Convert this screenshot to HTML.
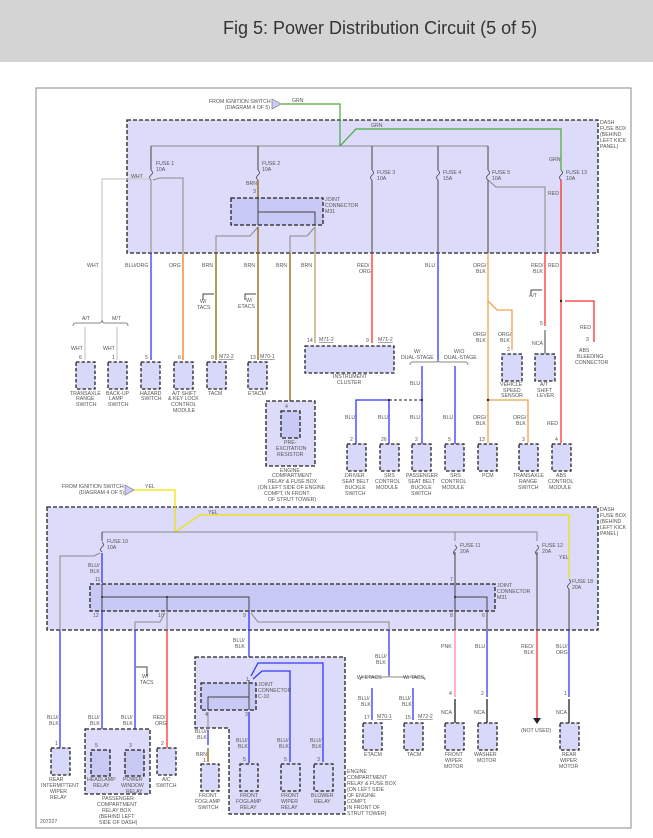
<!DOCTYPE html>
<html><head><meta charset="utf-8"><style>
html,body{margin:0;padding:0;background:#fff;}
svg{display:block}
text{font-family:"Liberation Sans",sans-serif;font-size:5.2px;fill:#555;}
.t{font-size:18px;fill:#333;}
.bx{fill:#dcdcfa;stroke:#222;stroke-width:1.3;stroke-dasharray:4 2;}
.jc{fill:#c9c9f6;stroke:#222;stroke-width:1.3;stroke-dasharray:4 2;}
.cp{fill:#d8d8fb;stroke:#222;stroke-width:1.3;stroke-dasharray:3.5 2;}
.g{stroke:#888;stroke-width:1;fill:none}
.k{stroke:#444;stroke-width:1;fill:none}
.b{stroke:#3535ff;stroke-width:1.3;fill:none}
.r{stroke:#ff3030;stroke-width:1.3;fill:none}
.o{stroke:#f0a050;stroke-width:1.3;fill:none}
.or{stroke:#f07a20;stroke-width:1.3;fill:none}
.br{stroke:#8b6508;stroke-width:1.3;fill:none}
.kh{stroke:#b5a070;stroke-width:1.3;fill:none}
.gr{stroke:#4aa83a;stroke-width:1.2;fill:none}
.y{stroke:#f0e000;stroke-width:1.2;fill:none}
.w{stroke:#ccc;stroke-width:1.2;fill:none}
.pk{stroke:#ff8aa8;stroke-width:1.3;fill:none}
.f{stroke:#444;stroke-width:0.8;fill:none}
</style></head><body>
<svg width="653" height="838" viewBox="0 0 653 838" xmlns="http://www.w3.org/2000/svg">
<rect x="0" y="0" width="653" height="62" fill="#d4d4d4"/>
<text x="223" y="34" class="t">Fig 5: Power Distribution Circuit (5 of 5)</text>
<rect x="36" y="88" width="595" height="740" stroke="#888" stroke-width="1" fill="none"/>

<!-- TOP FUSE BOX -->
<rect x="127" y="120" width="471" height="133" class="bx"/>
<text x="600" y="124">DASH</text><text x="600" y="130">FUSE BOX</text><text x="600" y="136">(BEHIND</text><text x="600" y="142">LEFT KICK</text><text x="600" y="148">PANEL)</text>
<text x="209" y="103">FROM IGNITION SWITCH</text><text x="225" y="109">(DIAGRAM 4 OF 5)</text>
<path d="M272 99L281 104L272 109Z" fill="#ccf" stroke="#777" stroke-width="0.7"/>
<path class="gr" d="M281 104H340V146"/><text x="292" y="102">GRN</text>
<path class="gr" d="M340 146L356 129H561V170"/><text x="371" y="127">GRN</text><text x="549" y="161">GRN</text>
<path class="g" d="M151 146H488"/>
<path class="k" d="M151 146V170M258 146V170M372 146V170M438 146V170M488 146V170"/>
<g class="f">
<path d="M151 170q3 3 0 5q-3 3 0 5"/><path d="M258 170q3 3 0 5q-3 3 0 5"/><path d="M372 170q3 3 0 5q-3 3 0 5"/><path d="M438 170q3 3 0 5q-3 3 0 5"/><path d="M488 170q3 3 0 5q-3 3 0 5"/><path d="M561 170q3 3 0 5q-3 3 0 5"/>
</g>
<text x="156" y="165">FUSE 1</text><text x="156" y="171">10A</text>
<text x="262" y="165">FUSE 2</text><text x="262" y="171">10A</text>
<text x="377" y="174">FUSE 3</text><text x="377" y="180">10A</text>
<text x="443" y="174">FUSE 4</text><text x="443" y="180">15A</text>
<text x="492" y="174">FUSE 5</text><text x="492" y="180">10A</text>
<text x="566" y="174">FUSE 13</text><text x="566" y="180">10A</text>
<path class="w" d="M150 179H102V322"/><text x="131" y="178">WHT</text><text x="87" y="267">WHT</text>
<path class="g" d="M151 180V253"/><path class="b" d="M151 253V360"/>
<path class="g" d="M153 180L160 178H183V253"/><path class="or" d="M183 253V360"/>
<text x="125" y="267">BLU/ORG</text><text x="169" y="267">ORG</text>
<path class="br" d="M258 180V198"/><text x="246" y="185">BRN</text><text x="253" y="193">3</text>
<rect x="231" y="198" width="92" height="27" class="jc"/>
<text x="325" y="201">JOINT</text><text x="325" y="207">CONNECTOR</text><text x="325" y="213">M31</text>
<path class="k" d="M258 198V225M258 212H315V225"/>
<path class="g" d="M258 227L250 236H216V253M315 227L307 236H290V253"/>
<path class="br" d="M216 253V360M258 227V360M290 253V403"/><path class="kh" d="M315 227V343"/>
<text x="202" y="267">BRN</text><text x="244" y="267">BRN</text><text x="276" y="267">BRN</text><text x="301" y="267">BRN</text>
<path class="k" d="M203 300V294H214" stroke-width="0.7"/>
<text x="200" y="303">W/</text><text x="197" y="309">TACS</text>
<path class="k" d="M245 300V294H256" stroke-width="0.7"/>
<text x="246" y="302">W/</text><text x="238" y="308">ETACS</text>
<path class="k" d="M372 180V253"/><path class="r" d="M372 253V343"/><text x="357" y="267">RED/</text><text x="359" y="273">ORG</text>
<path class="k" d="M438 180V253"/><path class="b" d="M438 253V362"/><text x="425" y="267">BLU</text>
<path class="g" d="M488 180L496 187H545V253"/><path class="r" d="M545 253V326"/>
<path class="k" d="M545 330V354" stroke="#555" stroke-width="1.5"/>
<text x="531" y="267">RED/</text><text x="533" y="273">BLK</text><text x="548" y="195">RED</text>
<text x="548" y="267">RED</text>
<path class="k" d="M531 294V290H542" stroke-width="0.7"/><text x="529" y="297">A/T</text>
<path class="k" d="M488 180V253"/><path class="o" d="M488 253V443M488 301L497 310H512V350M488 400H528V443"/>
<text x="473" y="267">ORG/</text><text x="476" y="273">BLK</text>
<text x="473" y="336">ORG/</text><text x="476" y="342">BLK</text>
<text x="498" y="336">ORG/</text><text x="500" y="342">BLK</text>
<text x="473" y="419">ORG/</text><text x="476" y="425">BLK</text>
<text x="513" y="419">ORG/</text><text x="516" y="425">BLK</text>
<circle cx="488" cy="400" r="1.2" fill="#222"/>
<path class="r" d="M561 180V443"/><path class="r" d="M565 301H594V342" stroke="#ff7070"/>
<circle cx="561" cy="301" r="1.2" fill="#222"/>
<text x="580" y="329">RED</text><text x="547" y="425">RED</text>
<text x="586" y="341">3</text><text x="579" y="352">ABS</text><text x="577" y="358">BLEEDING</text><text x="575" y="364">CONNECTOR</text>
<text x="540" y="325">5</text><text x="532" y="345">NCA</text>
<path class="g" d="M73 326q0-3 3-3H99q3 0 3-3q0 3 3 3H125q3 0 3 3" stroke-width="0.8"/>
<text x="82" y="320">A/T</text><text x="112" y="320">M/T</text>
<path class="w" d="M85 327V360M117 327V360"/>
<text x="71" y="350">WHT</text><text x="103" y="350">WHT</text>
<g>
<rect x="76" y="362" width="19" height="27" class="cp"/><text x="79" y="359">6</text>
<rect x="108" y="362" width="19" height="27" class="cp"/><text x="112" y="359">1</text>
<rect x="141" y="362" width="19" height="27" class="cp"/><text x="145" y="359">5</text>
<rect x="174" y="362" width="19" height="27" class="cp"/><text x="178" y="359">6</text>
<rect x="207" y="362" width="19" height="27" class="cp"/><text x="211" y="359">9</text><text x="219" y="358" text-decoration="underline">M72-2</text>
<rect x="248" y="362" width="19" height="27" class="cp"/><text x="250" y="359">13</text><text x="260" y="358" text-decoration="underline">M70-1</text>
</g>
<text x="70" y="395">TRANSAXLE</text><text x="76" y="400">RANGE</text><text x="76" y="406">SWITCH</text>
<text x="106" y="395">BACK-UP</text><text x="109" y="400">LAMP</text><text x="108" y="406">SWITCH</text>
<text x="140" y="395">HAZARD</text><text x="141" y="400">SWITCH</text>
<text x="172" y="395">A/T SHIFT</text><text x="168" y="400">&amp; KEY LOCK</text><text x="171" y="406">CONTROL</text><text x="173" y="412">MODULE</text>
<text x="208" y="395">TACM</text><text x="248" y="395">ETACM</text>
<rect x="305" y="346" width="89" height="27" class="cp"/>
<text x="307" y="342">14</text><text x="319" y="341" text-decoration="underline">M71-2</text>
<text x="366" y="342">9</text><text x="378" y="341" text-decoration="underline">M71-2</text>
<text x="333" y="378">INSTRUMENT</text><text x="337" y="384">CLUSTER</text>
<rect x="266" y="401" width="49" height="65" class="bx"/>
<rect x="281" y="411" width="19" height="27" class="jc"/><text x="285" y="408">4</text>
<text x="284" y="444">PRE-</text><text x="276" y="450">EXCITATION</text><text x="277" y="456">RESISTOR</text>
<text x="280" y="472">ENGINE</text><text x="272" y="477">COMPARTMENT</text><text x="268" y="483">RELAY &amp; FUSE BOX</text><text x="258" y="489">(ON LEFT SIDE OF ENGINE</text><text x="264" y="495">COMPT, IN FRONT</text><text x="268" y="501">OF STRUT TOWER)</text>
<path class="g" d="M410 365q0-3 3-3H436q2 0 2-2q0 2 2 2H465q3 0 3 3" stroke-width="0.8"/>
<text x="414" y="353">W/</text><text x="401" y="359">DUAL-STAGE</text><text x="454" y="353">W/O</text><text x="444" y="359">DUAL-STAGE</text>
<path class="b" d="M422 366V444M455 366V444M356 444V400H389M389 400V444"/>
<path d="M389 400H422" stroke="#222" stroke-width="1" stroke-dasharray="3 2"/>
<circle cx="389" cy="400" r="1.1" fill="#222"/><circle cx="422" cy="400" r="1.1" fill="#222"/>
<text x="410" y="385">BLU</text><text x="345" y="419">BLU</text><text x="378" y="419">BLU</text><text x="410" y="419">BLU</text><text x="443" y="419">BLU</text>
<rect x="502" y="354" width="20" height="27" class="cp"/><text x="507" y="351">2</text>
<rect x="535" y="354" width="20" height="27" class="cp"/>
<text x="500" y="386">VEHICLE</text><text x="503" y="392">SPEED</text><text x="501" y="397">SENSOR</text>
<text x="540" y="386">A/T</text><text x="537" y="392">SHIFT</text><text x="537" y="397">LEVER</text>
<g>
<rect x="347" y="444" width="19" height="27" class="cp"/><text x="350" y="441">2</text>
<rect x="380" y="444" width="19" height="27" class="cp"/><text x="381" y="441">26</text>
<rect x="412" y="444" width="19" height="27" class="cp"/><text x="415" y="441">2</text>
<rect x="445" y="444" width="19" height="27" class="cp"/><text x="448" y="441">5</text>
<rect x="478" y="444" width="19" height="27" class="cp"/><text x="479" y="441">13</text>
<rect x="519" y="444" width="19" height="27" class="cp"/><text x="522" y="441">3</text>
<rect x="552" y="444" width="19" height="27" class="cp"/><text x="555" y="441">4</text>
</g>
<text x="345" y="477">DRIVER</text><text x="342" y="483">SEAT BELT</text><text x="345" y="489">BUCKLE</text><text x="345" y="495">SWITCH</text>
<text x="384" y="477">SRS</text><text x="375" y="483">CONTROL</text><text x="376" y="489">MODULE</text>
<text x="406" y="477">PASSENGER</text><text x="408" y="483">SEAT BELT</text><text x="411" y="489">BUCKLE</text><text x="411" y="495">SWITCH</text>
<text x="450" y="477">SRS</text><text x="441" y="483">CONTROL</text><text x="442" y="489">MODULE</text>
<text x="482" y="477">PCM</text>
<text x="513" y="477">TRANSAXLE</text><text x="519" y="483">RANGE</text><text x="518" y="489">SWITCH</text>
<text x="556" y="477">ABS</text><text x="548" y="483">CONTROL</text><text x="549" y="489">MODULE</text>

<text x="62" y="488">FROM IGNITION SWITCH</text><text x="79" y="494">(DIAGRAM 4 OF 5)</text>
<path d="M125 485L134 490L125 495Z" fill="#ccf" stroke="#777" stroke-width="0.7"/>
<text x="145" y="488">YEL</text>
<rect x="47" y="507" width="551" height="123" class="bx"/>
<path class="y" d="M134 490H175V532"/>
<path class="y" d="M175 532L200 515H569V578"/><text x="208" y="514">YEL</text><text x="559" y="559">YEL</text>
<text x="600" y="511">DASH</text><text x="600" y="517">FUSE BOX</text><text x="600" y="523">(BEHIND</text><text x="600" y="529">LEFT KICK</text><text x="600" y="535">PANEL)</text>
<path class="g" d="M102 532H537V541M455 532V541"/><path class="k" d="M102 532V541"/>
<g class="f"><path d="M102 542q3 3 0 5q-3 3 0 5"/><path d="M455 545q3 3 0 5q-3 3 0 5"/><path d="M537 545q3 3 0 5q-3 3 0 5"/><path d="M569 579q3 3 0 5q-3 3 0 5"/></g>
<text x="107" y="543">FUSE 10</text><text x="107" y="549">10A</text>
<text x="460" y="547">FUSE 11</text><text x="460" y="553">20A</text>
<text x="542" y="547">FUSE 12</text><text x="542" y="553">20A</text>
<text x="572" y="583">FUSE 18</text><text x="572" y="589">20A</text>
<path class="g" d="M100 553L94 556H60V630"/><path class="b" d="M60 630V748M102 553V583"/>
<text x="88" y="567">BLU/</text><text x="90" y="573">BLK</text><text x="95" y="581">11</text>
<rect x="90" y="584" width="405" height="27" class="jc"/>
<text x="497" y="587">JOINT</text><text x="497" y="593">CONNECTOR</text><text x="497" y="599">M31</text>
<path class="k" d="M102 584V611M102 597H249V611M167 597V611M455 552V611M455 597H487V611"/>
<circle cx="102" cy="597" r="1" fill="#222"/><circle cx="167" cy="597" r="1" fill="#222"/><circle cx="455" cy="597" r="1" fill="#222"/>
<text x="93" y="617">12</text><text x="158" y="617">10</text><text x="243" y="617">9</text>
<text x="450" y="581">7</text><text x="450" y="617">8</text><text x="482" y="617">6</text>
<path class="g" d="M165 613L160 622H135V630M251 613L258 622H389V630"/>
<path class="b" d="M102 611V748M135 630V748M389 630V676M249 611V680"/>
<path class="r" d="M167 630V748" stroke="#ff6a50"/><path class="g" d="M167 611V630"/>
<path class="pk" d="M455 630V697"/><path class="k" d="M455 611V630M487 611V630M537 552V630M569 589V630"/>
<path class="b" d="M487 630V697M569 630V697"/>
<path class="r" d="M537 630V718"/><path d="M533 718H541L537 724Z" fill="#222"/>
<text x="233" y="642">BLU/</text><text x="235" y="648">BLK</text>
<text x="375" y="658">BLU/</text><text x="376" y="664">BLK</text>
<text x="441" y="648">PNK</text><text x="475" y="648">BLU</text>
<text x="521" y="648">RED/</text><text x="524" y="654">BLK</text>
<text x="556" y="648">BLU/</text><text x="556" y="654">ORG</text>
<path class="k" d="M147 676V667H136" stroke-width="0.7"/><text x="142" y="678">W/</text><text x="140" y="684">TACS</text>
<text x="47" y="719">BLU/</text><text x="49" y="725">BLK</text>
<text x="88" y="719">BLU/</text><text x="90" y="725">BLK</text>
<text x="121" y="719">BLU/</text><text x="123" y="725">BLK</text>
<text x="153" y="719">RED/</text><text x="155" y="725">ORG</text>
<rect x="51" y="748" width="19" height="27" class="cp"/><text x="55" y="745">1</text>
<rect x="85" y="729" width="65" height="65" class="bx"/>
<rect x="91" y="750" width="19" height="26" class="jc"/><text x="95" y="747">5</text>
<rect x="125" y="750" width="19" height="26" class="jc"/><text x="129" y="747">3</text>
<rect x="157" y="748" width="19" height="27" class="cp"/><text x="161" y="745">2</text>
<text x="49" y="781">REAR</text><text x="41" y="787">INTERMITTENT</text><text x="50" y="793">WIPER</text><text x="50" y="799">RELAY</text>
<text x="87" y="781">HEADLAMP</text><text x="93" y="787">RELAY</text>
<text x="123" y="781">POWER</text><text x="121" y="787">WINDOW</text><text x="126" y="793">RELAY</text>
<text x="162" y="781">A/C</text><text x="156" y="787">SWITCH</text>
<text x="102" y="800">PASSENGER</text><text x="97" y="806">COMPARTMENT</text><text x="102" y="812">RELAY BOX</text><text x="99" y="818">(BEHIND LEFT</text><text x="99" y="824">SIDE OF DASH)</text>
<text x="40" y="823">207227</text>
<path d="M195 657H345V814H229V728H195Z" class="bx"/>
<path class="b" d="M251 676L258 663H323V762M253 679L262 671H290V762"/>
<rect x="201" y="683" width="55" height="27" class="jc"/>
<text x="258" y="686">JOINT</text><text x="258" y="692">CONNECTOR</text><text x="258" y="698">C-10</text>
<text x="246" y="681">1</text>
<path class="k" d="M249 680V710M249 697H208V710"/>
<path class="g" d="M208 712V730"/><path class="b" d="M208 730V745"/><path class="br" d="M208 748V762"/>
<path class="b" d="M249 712V763"/>
<text x="205" y="716">4</text><text x="245" y="716">3</text>
<text x="195" y="733">BLU/</text><text x="197" y="739">BLK</text><text x="196" y="756">BRN</text><text x="203" y="762">1</text>
<text x="236" y="742">BLU/</text><text x="238" y="748">BLK</text>
<text x="277" y="742">BLU/</text><text x="279" y="748">BLK</text>
<text x="310" y="742">BLU/</text><text x="312" y="748">BLK</text>
<rect x="201" y="764" width="18" height="27" class="cp"/>
<rect x="240" y="764" width="18" height="27" class="cp"/><text x="243" y="761">5</text>
<rect x="281" y="764" width="19" height="27" class="cp"/><text x="284" y="761">5</text>
<rect x="314" y="764" width="19" height="27" class="cp"/><text x="317" y="761">3</text>
<text x="199" y="797">FRONT</text><text x="195" y="803">FOGLAMP</text><text x="198" y="809">SWITCH</text>
<text x="240" y="797">FRONT</text><text x="236" y="803">FOGLAMP</text><text x="240" y="809">RELAY</text>
<text x="281" y="797">FRONT</text><text x="281" y="803">WIPER</text><text x="281" y="809">RELAY</text>
<text x="311" y="797">BLOWER</text><text x="314" y="803">RELAY</text>
<text x="347" y="773">ENGINE</text><text x="347" y="779">COMPARTMENT</text><text x="347" y="785">RELAY &amp; FUSE BOX</text><text x="347" y="791">(ON LEFT SIDE</text><text x="347" y="797">OF ENGINE</text><text x="347" y="803">COMPT,</text><text x="347" y="809">IN FRONT OF</text><text x="347" y="815">STRUT TOWER)</text>
<path class="g" d="M360 680q0-3 3-3H387q2 0 2-2q0 2 2 2H422q3 0 3 3" stroke-width="0.8"/>
<text x="357" y="679">W/ ETACS</text><text x="403" y="679">W/ TACS</text>
<path class="b" d="M372 688V720M413 688V720"/>
<text x="358" y="700">BLU/</text><text x="361" y="706">BLK</text><text x="399" y="700">BLU/</text><text x="402" y="706">BLK</text>
<text x="364" y="719">17</text><text x="377" y="718" text-decoration="underline">M70-1</text>
<text x="405" y="719">15</text><text x="418" y="718" text-decoration="underline">M72-2</text>
<rect x="363" y="723" width="19" height="27" class="cp"/><rect x="404" y="723" width="19" height="27" class="cp"/>
<text x="364" y="756">ETACM</text><text x="407" y="756">TACM</text>
<path d="M455 699V723M487 699V723M569 699V723" stroke="#111" stroke-width="1.2"/>
<text x="449" y="695">4</text><text x="481" y="695">2</text><text x="564" y="695">1</text>
<text x="441" y="714">NCA</text><text x="474" y="714">NCA</text><text x="556" y="714">NCA</text>
<rect x="445" y="723" width="19" height="27" class="cp"/><rect x="478" y="723" width="19" height="27" class="cp"/><rect x="560" y="723" width="19" height="27" class="cp"/>
<text x="445" y="756">FRONT</text><text x="445" y="762">WIPER</text><text x="444" y="768">MOTOR</text>
<text x="474" y="756">WASHER</text><text x="477" y="762">MOTOR</text>
<text x="521" y="732">(NOT USED)</text>
<text x="562" y="756">REAR</text><text x="560" y="762">WIPER</text><text x="559" y="768">MOTOR</text>
</svg>
</body></html>
